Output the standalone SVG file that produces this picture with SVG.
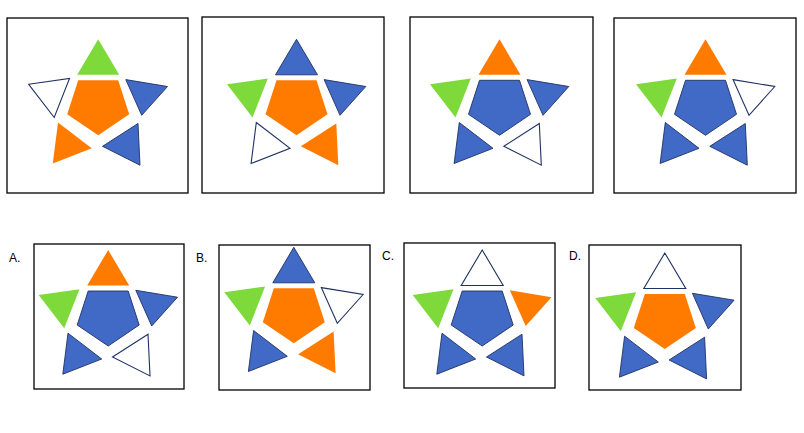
<svg xmlns="http://www.w3.org/2000/svg" width="804" height="433" viewBox="0 0 804 433">
<style>
.box{fill:#fff;stroke:#000;stroke-width:1.3}
.g{fill:#7ED93B}
.o{fill:#FF7B00}
.b{fill:#4169C6;stroke:#1F3263;stroke-width:0.9}
.w{fill:#fff;stroke:#1F3263;stroke-width:1.1}
.lbl{font-family:"Liberation Sans",Arial,sans-serif;font-size:12px;fill:#000}
</style>
<defs>
<polygon id="top" points="0,0 -21,35.5 21,35.5"/>
<polygon id="pent" points="-20,41 20,41 31,75 0,96 -31,75"/>
<polygon id="lt" points="-69.5,45 -28.7,39.2 -44,78.2"/>
<polygon id="rt" points="27.6,40.3 69.3,47.2 43.5,76"/>
<polygon id="bl" points="-40.2,83.2 -6.5,109 -45.4,124.2"/>
<polygon id="br" points="39.8,84.2 4.3,107 41.8,125.9"/>
</defs>
<rect width="804" height="433" fill="#fff"/>
<g id="panel1">
<rect class="box" x="7" y="18" width="181" height="175"/>
<g transform="translate(98.2,39.3)">
<use href="#top" class="g"/><use href="#pent" class="o"/><use href="#lt" class="w"/><use href="#rt" class="b"/><use href="#bl" class="o"/><use href="#br" class="b"/>
</g>
</g>
<g id="panel2">
<rect class="box" x="202" y="17" width="182" height="176"/>
<g transform="translate(296.5,39.3)">
<use href="#top" class="b"/><use href="#pent" class="o"/><use href="#lt" class="g"/><use href="#rt" class="b"/><use href="#bl" class="w"/><use href="#br" class="o"/>
</g>
</g>
<g id="panel3">
<rect class="box" x="410" y="17" width="183" height="176"/>
<g transform="translate(499.5,39.3)">
<use href="#top" class="o"/><use href="#pent" class="b"/><use href="#lt" class="g"/><use href="#rt" class="b"/><use href="#bl" class="b"/><use href="#br" class="w"/>
</g>
</g>
<g id="panel4">
<rect class="box" x="614" y="18" width="182" height="175"/>
<g transform="translate(705.5,39.3)">
<use href="#top" class="o"/><use href="#pent" class="b"/><use href="#lt" class="g"/><use href="#rt" class="w"/><use href="#bl" class="b"/><use href="#br" class="b"/>
</g>
</g>
<g id="optionA">
<text class="lbl" x="9" y="262">A.</text>
<rect class="box" x="34" y="244" width="150" height="145"/>
<g transform="translate(108.2,250)">
<use href="#top" class="o"/><use href="#pent" class="b"/><use href="#lt" class="g"/><use href="#rt" class="b"/><use href="#bl" class="b"/><use href="#br" class="w"/>
</g>
</g>
<g id="optionB">
<text class="lbl" x="196" y="262">B.</text>
<rect class="box" x="219" y="245" width="151" height="145"/>
<g transform="translate(293.8,247.3)">
<use href="#top" class="b"/><use href="#pent" class="o"/><use href="#lt" class="g"/><use href="#rt" class="w"/><use href="#bl" class="b"/><use href="#br" class="o"/>
</g>
</g>
<g id="optionC">
<text class="lbl" x="382" y="260">C.</text>
<rect class="box" x="404" y="243" width="151" height="145"/>
<g transform="translate(482.2,250)">
<use href="#top" class="w"/><use href="#pent" class="b"/><use href="#lt" class="g"/><use href="#rt" class="o"/><use href="#bl" class="b"/><use href="#br" class="b"/>
</g>
</g>
<g id="optionD">
<text class="lbl" x="569" y="260">D.</text>
<rect class="box" x="589" y="245" width="152" height="145"/>
<g transform="translate(664.8,253)">
<use href="#top" class="w"/><use href="#pent" class="o"/><use href="#lt" class="g"/><use href="#rt" class="b"/><use href="#bl" class="b"/><use href="#br" class="b"/>
</g>
</g>
<g id="connectors"/>
</svg>
